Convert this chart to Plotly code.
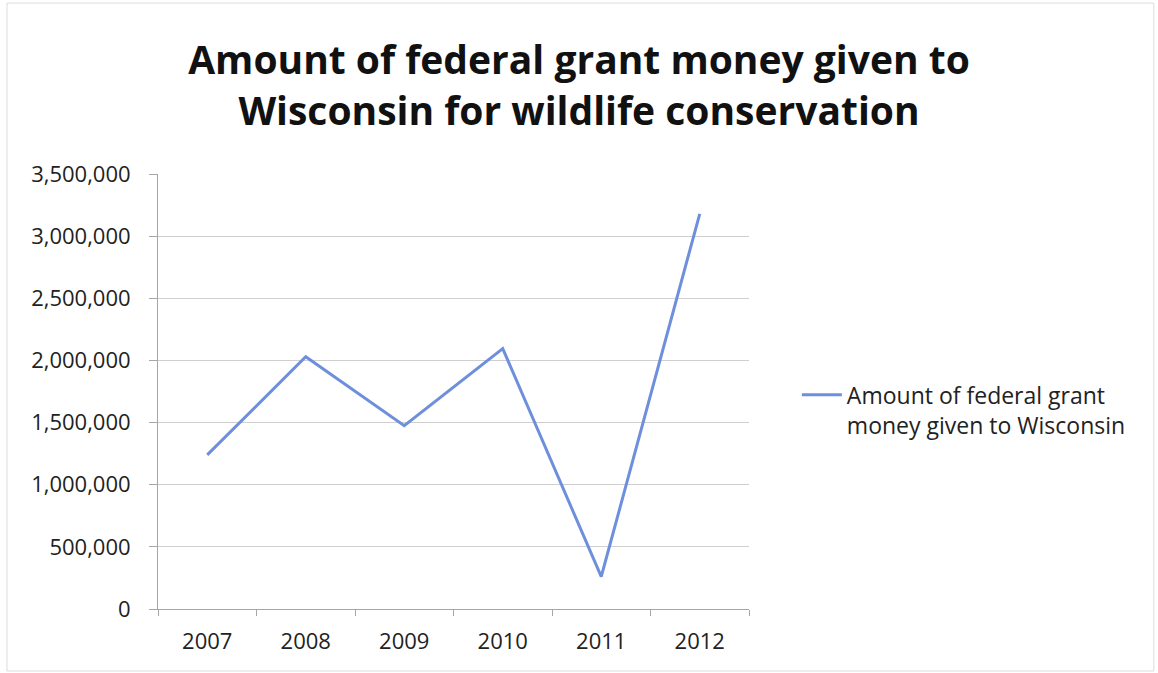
import plotly.graph_objects as go

years = ["2007", "2008", "2009", "2010", "2011", "2012"]
grant_amounts = [1240000, 2030000, 1475000, 2095000, 260000, 3180000]
series_name = "Amount of federal grant<br>money given to Wisconsin"
title_text = "Amount of federal grant money given to<br>Wisconsin for wildlife conservation"
y_ticks = [0, 500000, 1000000, 1500000, 2000000, 2500000, 3000000, 3500000]

FONT = "'Open Sans', Lato, sans-serif"

fig = go.Figure()
fig.add_trace(go.Scatter(
    x=years, y=grant_amounts, mode="lines", name=series_name,
    line=dict(color="#6e8fdb", width=3),
))

fig.update_layout(
    width=1158, height=673,
    margin=dict(l=158, r=409, t=174, b=64),
    paper_bgcolor="white", plot_bgcolor="white",
    font=dict(family=FONT, color="#222222", size=22),
    title=dict(text="<b>" + title_text + "</b>", x=0.5, xanchor="center",
               y=0.89, yanchor="middle",
               font=dict(family=FONT, size=39, color="#111111")),
    showlegend=True,
    legend=dict(x=1.081, y=0.458, xanchor="left", yanchor="middle",
                valign="top", font=dict(size=23, color="#222222"),
                bgcolor="rgba(0,0,0,0)", itemwidth=40),
    shapes=[dict(type="rect", xref="paper", yref="paper",
                 x0=-0.2555, x1=1.685, y0=-0.1425, y1=1.393,
                 line=dict(color="#dcdcdc", width=1))],
)

fig.update_xaxes(
    type="category", range=[-0.5, 5.5], tickson="boundaries",
    ticks="outside", ticklen=6,
    tickcolor="#a6a6a6", showline=True, linecolor="#a6a6a6",
    showgrid=False, ticklabelstandoff=13, tickfont=dict(size=22),
)
fig.update_yaxes(
    range=[0, 3500000], tickvals=y_ticks, tickformat=",d",
    ticks="outside", ticklen=8, tickcolor="#a6a6a6",
    showline=True, linecolor="#a6a6a6",
    showgrid=True, gridcolor="#cfcfcf", gridwidth=1,
    zeroline=False, ticklabelstandoff=14, tickfont=dict(size=22),
)

fig.write_html("out.html")
